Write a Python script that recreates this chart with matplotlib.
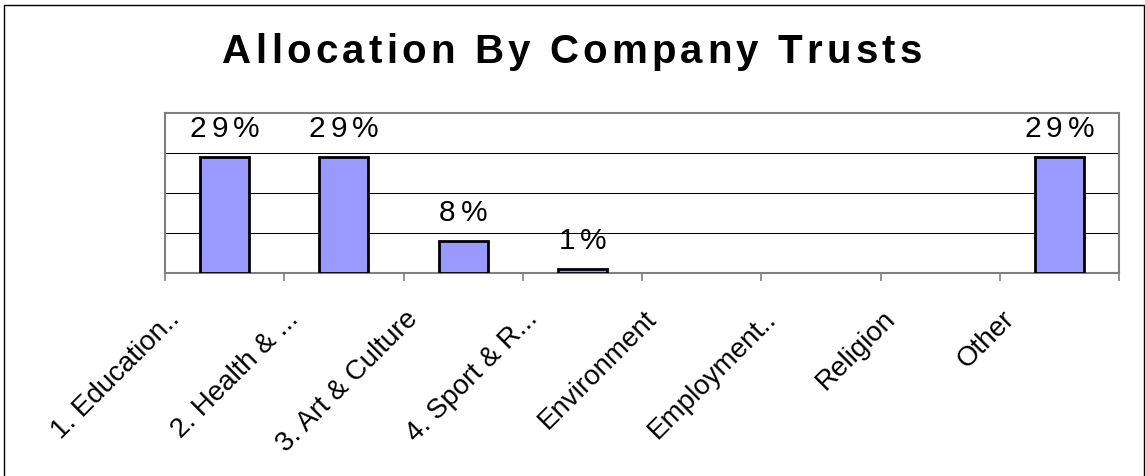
import numpy as np
import matplotlib
matplotlib.use('Agg')
import matplotlib.pyplot as plt
from matplotlib import font_manager
from matplotlib.ft2font import FT2Font
from matplotlib.patches import Rectangle
from matplotlib.transforms import IdentityTransform, ScaledTranslation

categories = ['1. Education..', '2. Health & ...', '3. Art & Culture',
              '4. Sport & R...', 'Environment', 'Employment..',
              'Religion', 'Other']
shares = [0.29, 0.29, 0.08, 0.01, 0.0, 0.0, 0.0, 0.29]
share_labels = ['29%', '29%', '8%', '1%', '', '', '', '29%']
title = 'Allocation By Company Trusts'

plt.rcParams['font.family'] = ['Liberation Sans', 'DejaVu Sans']

W, H, DPI = 1145, 477, 100
fig = plt.figure(figsize=(W / DPI, H / DPI), dpi=DPI)


def advances(text, size, weight='normal'):
    """advance width of every character in pixels"""
    path = font_manager.findfont(
        font_manager.FontProperties(family='Liberation Sans', weight=weight))
    font = FT2Font(path)
    font.set_size(size, DPI)
    return [font.load_char(ord(c)).linearHoriAdvance / 65536 for c in text]


def spaced(xc, y, text, size, gap, weight='normal'):
    """draw text centred on xc (pixels) with extra letter spacing"""
    adv = advances(text, size, weight)
    total = sum(adv) + gap * (len(text) - 1)
    x = xc - total / 2
    for c, a in zip(text, adv):
        fig.text(x, y, c, transform=IdentityTransform(), fontsize=size,
                 fontweight=weight, ha='left', va='baseline', color='black')
        x += a + gap


ax = fig.add_axes([165 / W, 1 - 274 / H, (1119 - 165) / W, (274 - 114) / H])
x = np.arange(len(categories))
vals = np.array(shares)
mask = vals > 0
ax.bar(x[mask], vals[mask], width=0.41, color='#9999ff',
       edgecolor='black', linewidth=2, zorder=3)

ax.set_xlim(-0.5, len(categories) - 0.5)
ax.set_ylim(0, 0.4)
ax.set_yticks([0.1, 0.2, 0.3])
ax.set_yticklabels([])
ax.tick_params(axis='y', length=0)
ax.grid(axis='y', color='black', linewidth=0.75, zorder=1)

ax.set_xticks(np.arange(-0.5, len(categories)))
ax.set_xticklabels([])
ax.tick_params(axis='x', which='major', direction='out', length=6,
               width=1.2, color='#808080')
ax.set_xticks(x, minor=True)
ax.set_xticklabels(categories, minor=True, rotation=45, ha='right',
                   va='baseline', rotation_mode='anchor', fontsize=20)
ax.tick_params(axis='x', which='minor', length=0, pad=0)
shift = ScaledTranslation(-44 / DPI, -46 / DPI, fig.dpi_scale_trans)
for lab in ax.get_xticklabels(minor=True):
    lab.set_transform(lab.get_transform() + shift)

for s in ax.spines.values():
    s.set_color('#808080')
    s.set_linewidth(1.5)

fig.canvas.draw()
for xi, v, lab in zip(x, shares, share_labels):
    if lab:
        px, py = ax.transData.transform((xi, v))
        spaced(px, py + 21, lab, 21.5, 5)

spaced(572, H - 63, title, 29, 4.2, weight='bold')

fig.add_artist(Rectangle((4, -5), 1140, H - 6 + 5, transform=IdentityTransform(),
                         fill=False, edgecolor='black', linewidth=1))

fig.savefig('out.png', dpi=DPI)
